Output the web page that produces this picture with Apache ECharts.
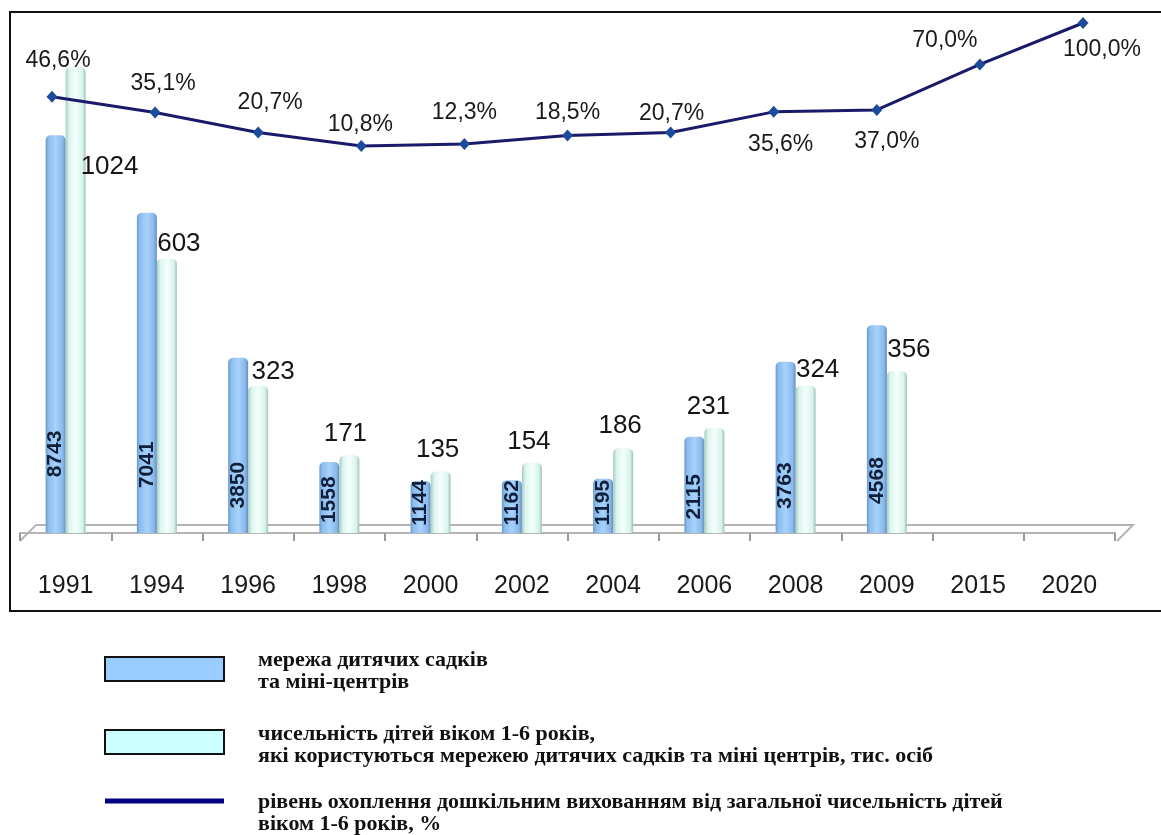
<!DOCTYPE html>
<html>
<head>
<meta charset="utf-8">
<script src="https://cdn.jsdelivr.net/npm/echarts@6/dist/echarts.min.js"></script>
<style>
html,body{margin:0;padding:0;background:#fff;}
#chart{width:1161px;height:835px;}
</style>
</head>
<body>
<div id="chart"></div>
<script>
// ---- data ----
const categories = ['1991','1994','1996','1998','2000','2002','2004','2006','2008','2009','2015','2020'];
const networkValues = [8743, 7041, 3850, 1558, 1144, 1162, 1195, 2115, 3763, 4568, null, null];
const childrenValues = [1024, 603, 323, 171, 135, 154, 186, 231, 324, 356, null, null];
const coverageYears = ['1991','1994','1996','1998','2000','2002','2004','2008','2009','2015','2020'];
const coverageValues = [46.6, 35.1, 20.7, 10.8, 12.3, 18.5, 20.7, 35.6, 37.0, 70.0, 100.0];
const legendNames = [
  'мережа дитячих садків\nта міні-центрів',
  'чисельність дітей віком 1-6 років,\nякі користуються мережею дитячих садків та міні центрів, тис. осіб',
  'рівень охоплення дошкільним вихованням від загальної чисельність дітей\nвіком 1-6 років, %'
];

// ---- label placement (styling) ----
const coverageLabelOffsets = [[6,-36],[8,-29],[12,-30],[-1,-21],[0,-31],[0,-23],[1,-19],[7,33],[10,32],[-35,-24],[19,27]];
const childLabelShift = [null,[12,2],[15,1],[-4,8],[-3,9],[-3,8],[-3,10],[-6,8],[12,3],[12,8],null,null];

const fmtPct = v => v.toFixed(1).replace('.', ',') + '%';

const chart = echarts.init(document.getElementById('chart'));

const blueGrad = new echarts.graphic.LinearGradient(0,0,1,0,[
  {offset:0,color:'#6a99cb'},{offset:0.15,color:'#8dbdee'},{offset:0.5,color:'#a6d2fb'},
  {offset:0.85,color:'#8ab9ea'},{offset:1,color:'#5e8dbf'}]);
const lightGrad = new echarts.graphic.LinearGradient(0,0,1,0,[
  {offset:0,color:'#a7cbbf'},{offset:0.18,color:'#dcf5ef'},{offset:0.5,color:'#f3fffd'},
  {offset:0.85,color:'#d9f2ec'},{offset:1,color:'#9cc3b6'}]);

const childrenData = childrenValues.map((v, i) => {
  if (v == null) return v;
  if (i === 0) {
    return {value: v, label: {position: [15, 100], align: 'left', verticalAlign: 'middle'}};
  }
  const s = childLabelShift[i];
  return {value: v, label: {position: 'top', distance: s[1], offset: [s[0], 0]}};
});

const coverageData = coverageValues.map((v, i) => ({
  value: v,
  label: {offset: coverageLabelOffsets[i]}
}));

const legendFont = 'bold 22px "Liberation Serif"';

const option = {
  backgroundColor: '#fff',
  animation: false,
  grid: [
    {left: 20, right: 46, top: 78, bottom: 302, containLabel: false},
    {left: 52, right: 78, top: 23, bottom: 674, containLabel: false}
  ],
  xAxis: [
    {
      type: 'category', data: categories, gridIndex: 0, offset: 8,
      axisLine: {show: true, lineStyle: {color: '#b4b4b4', width: 2}},
      axisTick: {show: true, length: 8, lineStyle: {color: '#9a9a9a', width: 2}},
      axisLabel: {fontFamily: 'Liberation Sans', fontSize: 25, color: '#1a1a1a', margin: 33}
    },
    {
      type: 'category', data: coverageYears, gridIndex: 1, boundaryGap: false,
      show: false
    }
  ],
  yAxis: [
    {type: 'value', gridIndex: 0, min: 0, max: 10000, show: false, splitLine: {show: false}},
    {type: 'value', gridIndex: 0, min: 0, max: 1000, show: false, splitLine: {show: false}},
    {type: 'value', gridIndex: 1, min: 0, max: 100, show: false, splitLine: {show: false}}
  ],
  series: [
    {
      name: legendNames[0], type: 'bar', xAxisIndex: 0, yAxisIndex: 0,
      data: networkValues, barWidth: 20, barGap: '0%', clip: false,
      itemStyle: {color: blueGrad, borderRadius: [5,5,0,0]},
      label: {
        show: true, position: ['50%', '86%'], rotate: 90, align: 'left', verticalAlign: 'middle',
        fontFamily: 'Liberation Sans', fontWeight: 'bold', fontSize: 21, color: '#10203a'
      }
    },
    {
      name: legendNames[1], type: 'bar', xAxisIndex: 0, yAxisIndex: 1,
      data: childrenData, barWidth: 20, barGap: '0%', clip: false,
      itemStyle: {color: lightGrad, borderRadius: [5,5,0,0]},
      label: {
        show: true, fontFamily: 'Liberation Sans', fontSize: 26, color: '#151515'
      }
    },
    {
      name: legendNames[2], type: 'line', xAxisIndex: 1, yAxisIndex: 2,
      data: coverageData, clip: false,
      symbol: 'diamond', symbolSize: [11, 12],
      lineStyle: {color: '#1a1a6a', width: 3},
      itemStyle: {color: '#1c4b9c'},
      label: {
        show: true, position: 'inside', align: 'center', verticalAlign: 'middle',
        formatter: p => fmtPct(p.value),
        fontFamily: 'Liberation Sans', fontSize: 23, color: '#1a1a1a'
      }
    }
  ],
  graphic: [
    {type: 'rect', shape: {x: 10, y: 12, width: 1160, height: 599}, style: {fill: 'none', stroke: '#111', lineWidth: 2}, z: -1},
    {type: 'polyline', shape: {points: [[20,541],[36,525],[1133,525],[1117,541]]}, style: {fill: 'none', stroke: '#b4b4b4', lineWidth: 2}, z: -1},
    {type: 'rect', shape: {x: 105, y: 657, width: 119, height: 24}, style: {fill: '#99ccff', stroke: '#111', lineWidth: 2}},
    {type: 'rect', shape: {x: 105, y: 730, width: 119, height: 24}, style: {fill: '#ccffff', stroke: '#111', lineWidth: 2}},
    {type: 'line', shape: {x1: 105, y1: 801, x2: 224, y2: 801}, style: {stroke: '#000080', lineWidth: 5}},
    {type: 'text', left: 258, top: 649, style: {text: legendNames[0], font: legendFont, lineHeight: 22, fill: '#111'}},
    {type: 'text', left: 258, top: 723, style: {text: legendNames[1], font: legendFont, lineHeight: 22, fill: '#111'}},
    {type: 'text', left: 258, top: 791, style: {text: legendNames[2], font: legendFont, lineHeight: 22, fill: '#111'}}
  ]
};
chart.setOption(option);
</script>
</body>
</html>
